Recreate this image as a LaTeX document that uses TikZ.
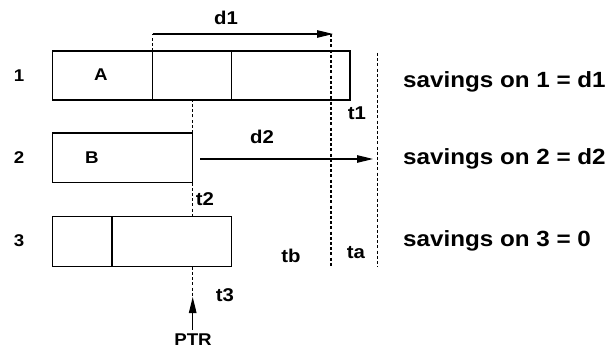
\documentclass[tikz,border=0pt]{standalone}
\usepackage{fontspec}
\setmainfont[FakeStretch=1.1]{Liberation Sans}
\usetikzlibrary{arrows.meta}
\tikzset{
  cell/.style={draw, line width=1.1pt, anchor=north west, inner sep=0pt, outer sep=0pt},
  lbl/.style={font=\fontsize{17}{19}\selectfont\bfseries, inner sep=0pt},
  big/.style={font=\fontsize{18.5}{21}\selectfont\bfseries, inner sep=0pt},
  sav/.style={font=\fontsize{22}{25}\selectfont\bfseries, inner sep=0pt, anchor=west},
  dsh/.style={line width=1.1pt, dash pattern=on 3pt off 2.2pt},
  arr/.style={line width=1.1pt, -{Triangle[length=16pt,width=7.5pt]}}
}
\begin{document}
\begin{tikzpicture}[x=1pt,y=-1pt]
\useasboundingbox (0,0) rectangle (609,352);
% row 1
\node[cell, minimum width=100pt, minimum height=49pt] (r1a) at (52.7,51) {};
\node[cell, minimum width=79pt, minimum height=49pt] (r1b) at (152.7,51) {};
\node[cell, minimum width=118.3pt, minimum height=49pt] (r1c) at (231.7,51) {};
% row 2
\node[cell, minimum width=140pt, minimum height=49.7pt] (r2) at (52.7,133) {};
% row 3
\node[cell, minimum width=59.3pt, minimum height=50pt] (r3a) at (52.7,216.7) {};
\node[cell, minimum width=119.7pt, minimum height=50pt] (r3b) at (112,216.7) {};
% labels
\node[lbl] (n1) at (19,76) {1};
\node[lbl] (n2) at (19,158) {2};
\node[lbl] (n3) at (19,241) {3};
\node[lbl] (A) at (101,75) {A};
\node[lbl] (B) at (92,158) {B};
\node[big] (d1) at (226,18) {d1};
\node[big] (d2) at (262,137) {d2};
\node[big] (t1) at (357,113) {t1};
\node[big] (t2) at (205,199) {t2};
\node[big] (t3) at (225,295) {t3};
\node[big] (tb) at (291,256) {tb};
\node[big] (ta) at (356,253) {ta};
\node[lbl] (ptr) at (193,340) {PTR};
\node[sav] (s1) at (403,82) {savings on 1 = d1};
\node[sav] (s2) at (403,159) {savings on 2 = d2};
\node[sav] (s3) at (403,241) {savings on 3 = 0};
% coordinates
\coordinate (d1s) at (152.7,34);
\coordinate (d1e) at (333,34);
\coordinate (ltop) at (331,34);
\coordinate (lbot) at (331,266);
\coordinate (ratop) at (377.7,53);
\coordinate (rabot) at (377.7,267);
\coordinate (d2s) at (200,159);
\coordinate (d2e) at (373,159);
\coordinate (ptip) at (192.7,297);
\coordinate (pbase) at (192.7,330);
% dashed lines
\draw[dsh] (r1b.north west) -- (d1s);
\draw[dsh] (ltop) -- (lbot);
\draw[dsh] (ratop) -- (rabot);
\draw[dsh] (r2.north east) -- (r2.north east |- r1b.south);
\draw[dsh] (r2.south east) -- (r2.south east |- r3b.north);
\draw[dsh] (r3b.south -| r2.east) -- (ptip);
% arrows
\draw[arr] (d1s) -- (d1e);
\draw[arr] (d2s) -- (d2e);
\draw[arr] (pbase) -- (ptip);
\end{tikzpicture}
\end{document}
